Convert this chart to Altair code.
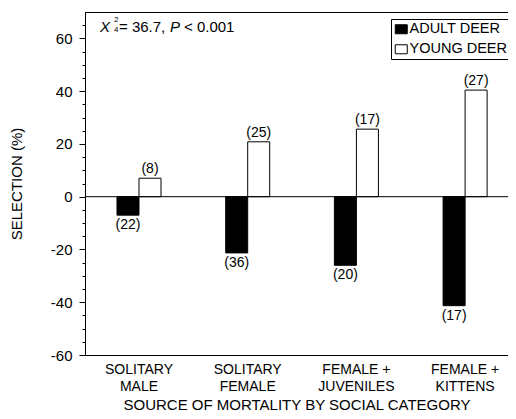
import altair as alt
import pandas as pd

categories = ["SOLITARY|MALE", "SOLITARY|FEMALE", "FEMALE +|JUVENILES", "FEMALE +|KITTENS"]
series = ["ADULT DEER", "YOUNG DEER"]
adult_values = [-7, -21.3, -26, -41.3]
young_values = [7, 20.8, 25.6, 40.4]
adult_n = [22, 36, 20, 17]
young_n = [8, 25, 17, 27]
major_ticks = [-60, -40, -20, 0, 20, 40, 60]
minor_ticks = list(range(-60, 70, 5))

rows = []
for i, c in enumerate(categories):
    rows.append({"cat": c, "series": series[0], "value": adult_values[i], "n": f"({adult_n[i]})"})
    rows.append({"cat": c, "series": series[1], "value": young_values[i], "n": f"({young_n[i]})"})
df = pd.DataFrame(rows)
one = pd.DataFrame({"k": [0]})

FONT = "Liberation Sans"

x_enc = alt.X("cat:N", sort=categories,
              scale=alt.Scale(paddingInner=0.595, paddingOuter=0.2432, align=0.605),
              axis=alt.Axis(title="SOURCE OF MORTALITY BY SOCIAL CATEGORY",
                            labelExpr="split(datum.label, '|')",
                            labelAngle=0, ticks=False, labelPadding=7,
                            labelFontSize=14, labelLineHeight=17,
                            titleFontSize=15, titleY=54, titleBaseline="alphabetic",
                            domainColor="black", labelColor="black", titleColor="black",
                            labelFont=FONT, titleFont=FONT, titleFontWeight="normal"))
xoff = alt.XOffset("series:N", sort=series, scale=alt.Scale(paddingInner=0, paddingOuter=0))
y_scale = alt.Scale(domain=[-60, 70], nice=False, zero=False)

base = alt.Chart(df)

bars = base.mark_bar(stroke="black", strokeWidth=1).encode(
    x=x_enc,
    xOffset=xoff,
    y=alt.Y("value:Q", scale=y_scale,
            axis=alt.Axis(values=major_ticks, title="SELECTION (%)", orient="left",
                          labelExpr="replace(datum.label, '\u2212', '-')",
                          tickSize=6, labelPadding=7, labelFontSize=15,
                          titleFontSize=15, titleX=-64, titleBaseline="alphabetic",
                          grid=False,
                          domainColor="black", tickColor="black",
                          labelColor="black", titleColor="black",
                          labelFont=FONT, titleFont=FONT, titleFontWeight="normal")),
    fill=alt.Fill("series:N", sort=series,
                  scale=alt.Scale(domain=series, range=["black", "white"]),
                  legend=alt.Legend(title=None, orient="none", legendX=306, legendY=7,
                                    strokeColor="black", fillColor="white", padding=3,
                                    symbolType="M-1,-0.75H1V0.75H-1Z", symbolSize=144,
                                    symbolStrokeColor="black", symbolStrokeWidth=1,
                                    labelFontSize=14.5, labelFont=FONT, labelColor="black",
                                    labelOffset=1, rowPadding=5, cornerRadius=0)),
)

zero_line = alt.Chart(one).mark_rule(color="black", strokeWidth=1).encode(
    y=alt.YDatum(0, type="quantitative", scale=y_scale,
                 axis=alt.Axis(values=minor_ticks, labels=False, tickSize=3, domain=False,
                               title=None, orient="left", grid=False, tickColor="black"))
)

top_line = alt.Chart(one).mark_rule(color="black", strokeWidth=1).encode(
    y=alt.value(0.5), x=alt.value(0), x2=alt.value(423)
)

pos_labels = base.transform_filter("datum.value >= 0").mark_text(
    baseline="bottom", dy=-2, fontSize=14, font=FONT, color="black"
).encode(x=x_enc, xOffset=xoff, y=alt.Y("value:Q", scale=y_scale, axis=None), text="n:N")

neg_labels = base.transform_filter("datum.value < 0").mark_text(
    baseline="top", dy=3, fontSize=14, font=FONT, color="black"
).encode(x=x_enc, xOffset=xoff, y=alt.Y("value:Q", scale=y_scale, axis=None), text="n:N")

def ann(text, x, y, size=15, style="normal"):
    return alt.Chart(one).mark_text(
        text=text, align="left", baseline="alphabetic", fontSize=size,
        font=FONT, fontStyle=style, color="black"
    ).encode(x=alt.value(x), y=alt.value(y))

annotation = (ann("X", 15, 20, 15, "italic") + ann("2", 29, 10, 8) + ann("4", 29, 20, 8)
              + ann("= 36.7,", 34, 20) + ann("P", 85, 20, 15, "italic") + ann("< 0.001", 99, 20))

chart = alt.layer(bars, zero_line, top_line, pos_labels, neg_labels, annotation).resolve_axis(
    y="independent"
).properties(
    width=423, height=343,
    autosize=alt.AutoSizeParams(type="none"),
    padding={"left": 77, "top": 4, "right": 0, "bottom": 56},
).configure_view(strokeWidth=0)

chart.save("out.html", embed_options={"renderer": "svg", "actions": False})
